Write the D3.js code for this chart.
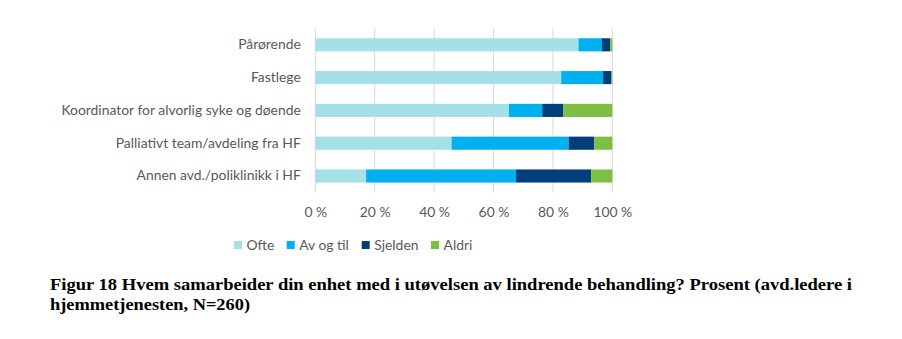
<!DOCTYPE html>
<html><head><meta charset="utf-8">
<script src="https://cdn.jsdelivr.net/npm/d3@7"></script>
<style>body{margin:0;background:#fff;}</style>
</head><body>
<svg id="c" width="902" height="339"></svg>
<script>
const categories = ["Pårørende","Fastlege","Koordinator for alvorlig syke og døende","Palliativt team/avdeling fra HF","Annen avd./poliklinikk i HF"];
const seriesNames = ["Ofte","Av og til","Sjelden","Aldri"];
const ofte    = [88.6, 82.8, 65.2, 45.9, 17.1];
const avogtil = [7.9, 14.1, 11.2, 39.4, 50.5];
const sjelden = [2.8, 2.8, 7.0, 8.6, 25.3];
const aldri   = [0.7, 0.3, 16.6, 6.1, 7.1];
const tickValues = [0,20,40,60,80,100];
const colors = ["#a5dfe8","#00b0f0","#003f7a","#7cbf43"];
const caption = ["Figur 18 Hvem samarbeider din enhet med i utøvelsen av lindrende behandling? Prosent (avd.ledere i","hjemmetjenesten, N=260)"];

const svg = d3.select("#c");
const font = "Lato, 'Open Sans', sans-serif";
const x = d3.scaleLinear().domain([0,100]).range([315.3,612.3]);
const y = d3.scaleBand().domain(categories).range([28.4,192.4]).paddingInner(0.6).paddingOuter(0.3);

const table = categories.map((c,i)=>({cat:c,"Ofte":ofte[i],"Av og til":avogtil[i],"Sjelden":sjelden[i],"Aldri":aldri[i]}));
const stacked = d3.stack().keys(seriesNames)(table);

// gridlines
svg.append("g").selectAll("line").data(tickValues).join("line")
  .attr("x1",d=>x(d)).attr("x2",d=>x(d)).attr("y1",28.4).attr("y2",192.4)
  .attr("stroke","#d9d9d9").attr("stroke-width",1);

svg.append("g").selectAll("g").data(stacked).join("g")
  .attr("fill",(d,i)=>colors[i])
  .selectAll("rect").data(d=>d).join("rect")
  .attr("x",d=>x(d[0])).attr("width",d=>x(d[1])-x(d[0]))
  .attr("y",d=>y(d.data.cat)).attr("height",y.bandwidth());

// y labels
const yAxis = svg.append("g").attr("transform","translate(315.3,0)")
  .call(d3.axisLeft(y).tickSize(0).tickPadding(14.5));
yAxis.select(".domain").remove();
yAxis.selectAll("text").attr("font-family",font).attr("font-size",13.9).attr("fill","#595959");

// x labels
const xAxis = svg.append("g").attr("transform","translate(0,204.5)")
  .call(d3.axisBottom(x).tickValues(tickValues).tickSize(0).tickFormat(d=>d+" %"));
xAxis.select(".domain").remove();
xAxis.selectAll("text").attr("font-family",font).attr("font-size",13.9).attr("fill","#595959").attr("dy","0.71em");

// legend
const legX = [234, 286.7, 361.7, 431];
const leg = svg.append("g").selectAll("g").data(seriesNames).join("g")
  .attr("transform",(d,i)=>`translate(${legX[i]},241)`);
leg.append("rect").attr("width",8).attr("height",8).attr("fill",(d,i)=>colors[i]);
leg.append("text").attr("x",12.5).attr("y",4).attr("dy","0.35em").text(d=>d)
  .attr("font-family",font).attr("font-size",13.9).attr("fill","#595959");

// caption
const capLen = [802, 200];
svg.append("g").selectAll("text").data(caption).join("text")
  .attr("x",50).attr("y",(d,i)=>290+i*20).text(d=>d)
  .attr("textLength",(d,i)=>capLen[i]).attr("lengthAdjust","spacingAndGlyphs")
  .attr("font-family","'Liberation Serif','Times New Roman',serif").attr("font-weight","bold")
  .attr("font-size",17.5).attr("fill","#000");
</script>
</body></html>
